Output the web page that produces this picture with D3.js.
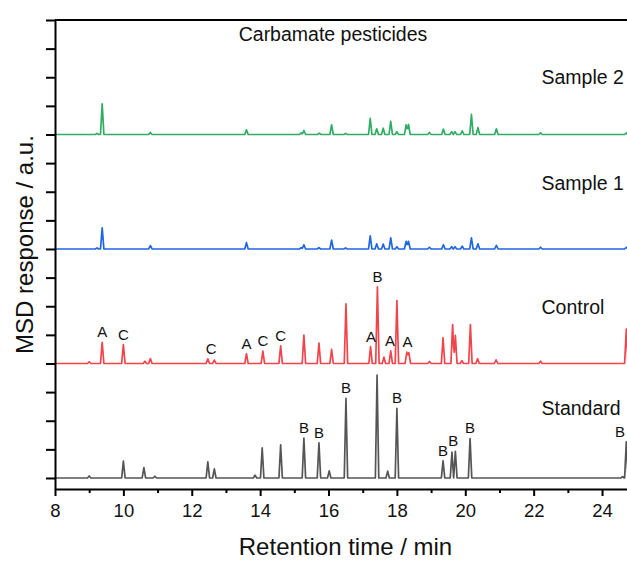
<!DOCTYPE html>
<html>
<head>
<meta charset="utf-8">
<script src="https://cdn.jsdelivr.net/npm/d3@7"></script>
<style>
html,body{margin:0;padding:0;background:#fff;}
svg{display:block;font-family:"Liberation Sans",Arial,sans-serif;}
</style>
</head>
<body>
<svg id="chart" width="627" height="561"></svg>
<script>
// ---- data: [retention time (min), peak height (a.u.)] ----
const standardPeaks = [[9.0,0.07],[10.0,0.59],[10.6,0.36],[10.92,0.06],[12.47,0.56],[12.66,0.32],[13.85,0.1],[14.06,1.05],[14.6,1.16],[15.28,1.39],[15.72,1.23],[16.02,0.25],[16.51,2.78],[17.42,3.59],[17.73,0.24],[18.0,2.43],[19.35,0.6],[19.61,0.9],[19.71,0.93],[20.14,1.38],[24.6,0.05],[24.71,1.26]];
const controlPeaks = [[9.0,0.06],[9.38,0.74],[10.0,0.66],[10.63,0.08],[10.79,0.17],[12.47,0.16],[12.66,0.12],[13.6,0.34],[14.08,0.43],[14.6,0.62],[15.28,0.99],[15.72,0.71],[16.09,0.49],[16.51,2.08],[17.23,0.59],[17.43,2.68],[17.62,0.22],[17.82,0.44],[18.0,2.2],[18.29,0.4],[18.35,0.38],[18.95,0.07],[19.35,0.9],[19.63,1.36],[19.71,0.98],[19.9,0.1],[20.15,1.36],[20.36,0.17],[20.9,0.13],[22.2,0.08],[24.71,1.2]];
const sample1Peaks = [[9.23,0.04],[9.38,0.74],[10.79,0.12],[13.6,0.22],[15.2,0.05],[15.28,0.15],[15.72,0.05],[16.09,0.31],[16.5,0.04],[17.22,0.46],[17.41,0.18],[17.6,0.17],[17.82,0.39],[18.0,0.08],[18.27,0.27],[18.34,0.27],[18.95,0.06],[19.36,0.15],[19.6,0.08],[19.7,0.08],[19.91,0.1],[20.18,0.39],[20.37,0.18],[20.91,0.13],[22.2,0.06],[24.71,0.06]];
const sample2Peaks = [[9.23,0.04],[9.38,1.07],[10.79,0.07],[13.6,0.16],[15.2,0.06],[15.28,0.14],[15.73,0.05],[16.09,0.34],[16.5,0.04],[17.22,0.56],[17.41,0.2],[17.6,0.22],[17.82,0.46],[18.0,0.1],[18.27,0.34],[18.34,0.35],[18.95,0.07],[19.36,0.19],[19.6,0.1],[19.7,0.1],[19.91,0.13],[20.18,0.7],[20.37,0.24],[20.91,0.2],[22.2,0.06],[24.71,0.06]];

const seriesNames = ["Standard","Control","Sample 1","Sample 2"];
const seriesOffsets = [0,4,8,12];
const seriesColors = ["#555555","#f2444b","#1f66e5","#30ad63"];

const standardLabels = [[15.28,"B"],[15.72,"B"],[16.51,"B"],[18.0,"B"],[19.35,"B"],[19.65,"B"],[20.14,"B"],[24.71,"B"]];
const controlLabels = [[9.38,"A"],[10.0,"C"],[12.57,"C"],[13.6,"A"],[14.08,"C"],[14.6,"C"],[17.24,"A"],[17.43,"B"],[17.8,"A"],[18.31,"A"]];

const xTicks = [8,10,12,14,16,18,20,22,24];
const xMinorTicks = [9,11,13,15,17,19,21,23,25];
const yTicks = d3.range(0,17,1);

const title = "Carbamate pesticides";
const xTitle = "Retention time / min";
const yTitle = "MSD response / a.u.";

// ---- layout ----
const W = 627;
const svg = d3.select("#chart");
const L = 55, T = 20, B = 489;
const x = d3.scaleLinear().domain([8,25]).range([L, L + 17*34.19]);
const y = d3.scaleLinear().domain([-0.385,16]).range([B, T]);
const halfW = 0.05;

function trace(peaks, off){
  const xs = new Set([8,25]);
  peaks.forEach(([t]) => { xs.add(t-halfW); xs.add(t); xs.add(t+halfW); });
  return Array.from(xs).sort((a,b)=>a-b).map(xv => {
    let v = 0;
    peaks.forEach(([t,h]) => { v += Math.max(0, h*(1-Math.abs(xv-t)/halfW)); });
    return [xv, v + off];
  });
}
const line = d3.line().x(d=>x(d[0])).y(d=>y(d[1]));
const allPeaks = [standardPeaks, controlPeaks, sample1Peaks, sample2Peaks];

const g = svg.append("g");
allPeaks.forEach((p,i) => {
  g.append("path").datum(trace(p, seriesOffsets[i]))
   .attr("d", line).attr("fill","none")
   .attr("stroke", seriesColors[i]).attr("stroke-width",1.7)
   .attr("stroke-linejoin","round");
});

// peak labels
function addLabels(labels, peaks, off){
  labels.forEach(([t,txt]) => {
    const h = d3.max(peaks.filter(p => Math.abs(p[0]-t) <= 0.1), p => p[1]) || 0;
    svg.append("text").attr("x", Math.min(x(t), W - 7)).attr("y", y(h+off) - 5)
      .attr("text-anchor","middle").attr("font-size",15).attr("fill","#111").text(txt);
  });
}
addLabels(standardLabels, standardPeaks, seriesOffsets[0]);
addLabels(controlLabels, controlPeaks, seriesOffsets[1]);

// axes
const xAxis = svg.append("g").attr("transform",`translate(0,${B})`)
  .call(d3.axisBottom(x).tickValues(xTicks).tickSize(7).tickSizeOuter(0).tickPadding(8).tickFormat(d3.format("d")));
svg.append("g").attr("transform",`translate(0,${B})`)
  .call(d3.axisBottom(x).tickValues(xMinorTicks).tickSize(4).tickSizeOuter(0).tickFormat(""))
  .select(".domain").remove();
xAxis.selectAll("text").attr("font-size",18.5).attr("fill","#111").attr("font-family","Liberation Sans, Arial, sans-serif");
const yAxis = svg.append("g").attr("transform",`translate(${L},0)`)
  .call(d3.axisLeft(y).tickValues(yTicks).tickSize(9).tickSizeOuter(0).tickFormat(""));
[xAxis, yAxis].forEach(a => {
  a.selectAll(".domain").attr("stroke","#000").attr("stroke-width",2);
});
svg.selectAll(".tick line").attr("stroke","#000").attr("stroke-width",2);
// top frame
svg.append("line").attr("x1",L).attr("x2",x(25)).attr("y1",y(16)).attr("y2",y(16))
  .attr("stroke","#000").attr("stroke-width",2);

// texts
svg.append("text").attr("x",333).attr("y",41).attr("text-anchor","middle")
  .attr("font-size",19.5).attr("fill","#111").text(title);
const nameBase = [415,314,190,84];
seriesNames.forEach((n,i) => {
  svg.append("text").attr("x",541.5).attr("y",nameBase[i])
    .attr("font-size",19.5).attr("fill","#111").text(n);
});
svg.append("text").attr("x",345.5).attr("y",555).attr("text-anchor","middle")
  .attr("font-size",24).attr("fill","#111").text(xTitle);
svg.append("text").attr("transform",`translate(33,${244.5}) rotate(-90)`)
  .attr("text-anchor","middle").attr("font-size",24).attr("fill","#111").text(yTitle);
</script>
</body>
</html>
